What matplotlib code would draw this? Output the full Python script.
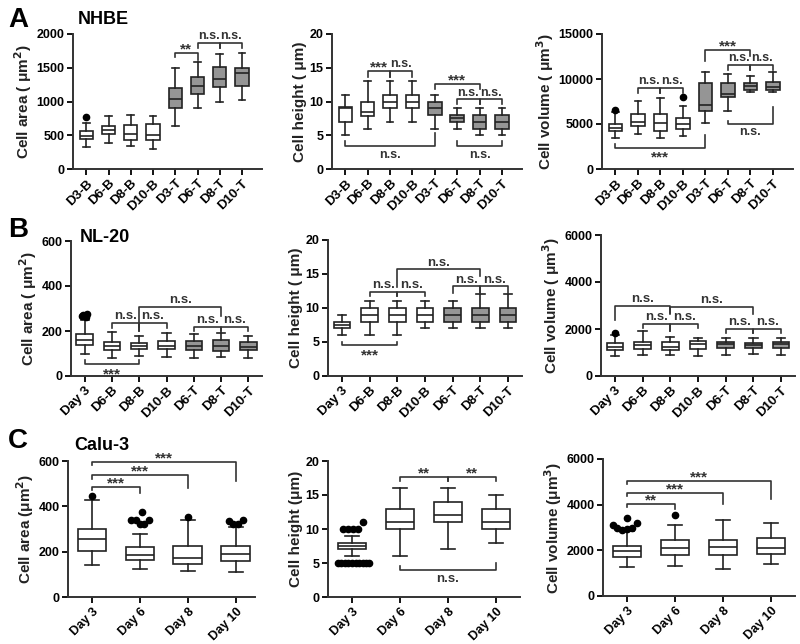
import matplotlib
matplotlib.use("Agg")
import matplotlib.pyplot as plt

plt.rcParams['font.family'] = ['Liberation Sans', 'DejaVu Sans']
plt.rcParams['font.weight'] = 'bold'
plt.rcParams['axes.labelweight'] = 'bold'

# --- data: [whisker low, Q1, median, Q3, whisker high] per box ---
labels_a = ["D3-B", "D6-B", "D8-B", "D10-B", "D3-T", "D6-T", "D8-T", "D10-T"]
labels_b = ["Day 3", "D6-B", "D8-B", "D10-B", "D6-T", "D8-T", "D10-T"]
labels_c = ["Day 3", "Day 6", "Day 8", "Day 10"]

nhbe_area = [[330, 440, 490, 560, 680], [390, 520, 580, 640, 780], [340, 430, 520, 650, 800],
             [300, 430, 500, 670, 780], [640, 910, 1040, 1200, 1500], [910, 1110, 1230, 1360, 1590],
             [990, 1210, 1330, 1510, 1700], [1020, 1230, 1420, 1500, 1720]]
nhbe_area_out = [[770], [], [], [], [], [], [], []]
nhbe_height = [[5, 7, 9, 9.2, 11], [6, 7.8, 8.5, 10, 13], [7, 9, 10, 11, 13], [7, 9, 10, 11, 13],
               [6, 8, 9, 10, 11], [6, 7, 7.5, 8, 9], [5, 6, 7, 8, 9], [5, 6, 7, 8, 9]]
nhbe_height_out = [[], [], [], [], [], [], [], []]
nhbe_volume = [[3500, 4200, 4600, 5000, 6300], [3900, 4800, 5200, 6100, 7600], [3500, 4200, 5100, 6100, 7900],
               [3700, 4400, 5000, 5700, 7000], [5100, 6500, 7100, 9500, 10800], [6500, 8000, 8300, 9500, 10600],
               [8500, 8800, 9200, 9500, 10300], [8500, 8800, 9100, 9700, 10800]]
nhbe_volume_out = [[6600], [], [], [8000], [], [], [], []]

nl20_area = [[100, 140, 160, 185, 250], [80, 115, 135, 150, 195], [90, 120, 132, 145, 180],
             [85, 120, 135, 155, 190], [80, 115, 135, 155, 185], [85, 110, 135, 160, 190],
             [80, 115, 130, 150, 180]]
nl20_area_out = [[265, 272, 268, 262, 275], [], [], [], [], [], []]
nl20_height = [[6, 7, 7.5, 8, 9], [6, 8, 9, 10, 11], [6, 8, 9, 10, 11], [7, 8, 9, 10, 11],
               [7, 8, 9, 10, 11], [7, 8, 9, 10, 12], [7, 8, 9, 10, 12]]
nl20_height_out = [[], [], [], [], [], [], []]
nl20_volume = [[850, 1100, 1250, 1400, 1750], [900, 1150, 1300, 1450, 1900], [900, 1100, 1250, 1450, 1650],
               [850, 1150, 1350, 1500, 1600], [900, 1200, 1350, 1450, 1600], [950, 1200, 1300, 1400, 1600],
               [900, 1200, 1350, 1450, 1600]]
nl20_volume_out = [[1850], [], [], [], [], [], []]

calu_area = [[140, 205, 255, 300, 430], [125, 165, 185, 220, 280], [115, 145, 170, 225, 340],
             [110, 160, 190, 225, 310]]
calu_area_out = [[445], [340, 340, 320, 320, 340, 375], [355], [335, 320, 320, 340]]
calu_height = [[6, 7, 7.5, 8, 9], [6, 10, 11, 13, 16], [7, 11, 12, 14, 16], [8, 10, 11, 13, 15]]
calu_height_out = [[10, 10, 10, 10, 11, 5, 5, 5, 5, 5, 5, 5, 5, 5, 5], [], [], []]
calu_volume = [[1250, 1700, 1950, 2200, 2850], [1300, 1800, 2100, 2450, 3100],
               [1200, 1800, 2150, 2450, 3350], [1400, 1850, 2100, 2550, 3200]]
calu_volume_out = [[3100, 3000, 2900, 2950, 3000, 3200, 3400], [3550], [], []]

# outlier x-jitter offsets (GraphPad spreads tied points sideways)
calu_area_dx = [[0], [-0.18, -0.09, 0.0, 0.09, 0.18, 0.05], [0], [-0.15, -0.05, 0.05, 0.15]]
calu_height_dx = [[-0.18, -0.08, 0.02, 0.12, 0.22, -0.3, -0.22, -0.15, -0.08, 0, 0.08, 0.15, 0.22, 0.3, 0.36], [], [], []]
calu_volume_dx = [[-0.3, -0.2, -0.1, 0.0, 0.1, 0.2, 0.0], [0], [], []]
nl20_area_dx = [[-0.1, -0.05, 0.0, 0.05, 0.1], [], [], [], [], [], []]

# significance brackets: (box i, box j, y, leg_i, leg_j, text, below)
sig_a1 = [(5, 6, 1720, 60, 100, "**", False), (6, 7, 1870, 80, 80, "n.s.", False), (7, 8, 1870, 80, 80, "n.s.", False)]
sig_a2 = [(2, 3, 14.5, 0.8, 0.8, "***", False), (3, 4, 14.5, 0.8, 0.8, "n.s.", False),
          (5, 7, 12.6, 0.8, 0.8, "***", False), (6, 7, 10.3, 0.6, 0.6, "n.s.", False),
          (7, 8, 10.3, 0.6, 0.6, "n.s.", False), (1, 5, 3.4, 0.7, 1.9, "n.s.", True),
          (6, 8, 3.4, 0.7, 0.7, "n.s.", True)]
sig_a3 = [(2, 3, 9000, 600, 600, "n.s.", False), (3, 4, 9000, 600, 600, "n.s.", False),
          (5, 7, 13200, 1200, 600, "***", False), (6, 7, 11600, 600, 600, "n.s.", False),
          (7, 8, 11600, 600, 600, "n.s.", False), (1, 5, 2330, 500, 1500, "***", True),
          (6, 8, 5040, 300, 1800, "n.s.", True)]
sig_b1 = [(1, 3, 52, 20, 20, "***", True), (2, 3, 235, 20, 35, "n.s.", False), (3, 4, 235, 35, 20, "n.s.", False),
          (3, 6, 307, 90, 40, "n.s.", False), (5, 6, 220, 20, 20, "n.s.", False), (6, 7, 220, 20, 20, "n.s.", False)]
sig_b2 = [(1, 3, 4.5, 0.5, 0.5, "***", True), (2, 3, 12.4, 0.6, 0.6, "n.s.", False), (3, 4, 12.4, 0.6, 0.6, "n.s.", False),
          (3, 6, 15.7, 2.6, 1.0, "n.s.", False), (5, 6, 13.2, 1.0, 1.0, "n.s.", False), (6, 7, 13.2, 1.0, 1.0, "n.s.", False)]
sig_b3 = [(1, 3, 2970, 600, 300, "n.s.", False), (2, 3, 2230, 200, 300, "n.s.", False), (3, 4, 2230, 300, 200, "n.s.", False),
          (3, 6, 2940, 300, 300, "n.s.", False), (5, 6, 2020, 200, 200, "n.s.", False), (6, 7, 2020, 200, 200, "n.s.", False)]
sig_c1 = [(1, 2, 485, 15, 25, "***", False), (1, 3, 537, 15, 55, "***", False), (1, 4, 596, 15, 85, "***", False)]
sig_c2 = [(2, 3, 17.6, 0.6, 0.6, "**", False), (3, 4, 17.6, 0.6, 0.6, "**", False), (2, 4, 4.0, 0.6, 1.0, "n.s.", True)]
sig_c3 = [(1, 2, 4040, 150, 250, "**", False), (1, 3, 4510, 150, 500, "***", False), (1, 4, 5050, 150, 800, "***", False)]

W, H = 800, 644
fig = plt.figure(figsize=(W / 100, H / 100), dpi=100)


def add_ax(left, top, right, bottom):
    return fig.add_axes([left / W, 1 - bottom / H, (right - left) / W, (bottom - top) / H])


def draw_panel(ax, stats, outs, labels, colors, ymax, yticks, ylabel, xlim, sigs, dx=None, ns_size=9.5, xfs=9.5):
    data = []
    for i, s in enumerate(stats):
        data.append(dict(whislo=s[0], q1=s[1], med=s[2], q3=s[3], whishi=s[4], fliers=[]))
    pos = list(range(1, len(stats) + 1))
    bp = ax.bxp(data, positions=pos, widths=0.6, patch_artist=True, showfliers=False,
                boxprops=dict(linewidth=1.2, edgecolor='#222222'),
                whiskerprops=dict(linewidth=1.2, color='#222222'),
                capprops=dict(linewidth=1.2, color='#222222'),
                medianprops=dict(linewidth=1.2, color='#222222'))
    for patch, c in zip(bp['boxes'], colors):
        patch.set_facecolor(c)
    for i, o in enumerate(outs):
        if not o:
            continue
        offs = dx[i] if dx is not None and dx[i] else [0] * len(o)
        ax.plot([pos[i] + d for d in offs], o, 'o', color='black', markersize=4.5, clip_on=False)
    ax.set_xlim(*xlim)
    ax.set_ylim(0, ymax)
    ax.set_yticks(yticks)
    ax.set_xticks(pos)
    ax.set_xticklabels(labels, rotation=45, ha='right', rotation_mode='anchor', fontsize=xfs, fontweight='bold')
    ax.tick_params(axis='y', labelsize=9, width=1.3, length=4, pad=2)
    ax.tick_params(axis='x', width=1.3, length=4, pad=2)
    for t in ax.get_yticklabels():
        t.set_fontweight('bold')
    ax.set_ylabel(ylabel, fontsize=11, fontweight='bold', color='#222222', labelpad=2)
    for sp in ['top', 'right']:
        ax.spines[sp].set_visible(False)
    for sp in ['left', 'bottom']:
        ax.spines[sp].set_linewidth(1.4)
        ax.spines[sp].set_color('#333333')
    for (i, j, y, h1, h2, txt, below) in sigs:
        fs = ns_size if txt == "n.s." else 11
        if below:
            ax.plot([i, i, j, j], [y + h1, y, y, y + h2], color='#333333', lw=1.2, clip_on=False)
            ax.text((i + j) / 2, y - ymax * 0.02, txt, ha='center', va='top', fontsize=fs, fontweight='bold', color='#333333')
        else:
            ax.plot([i, i, j, j], [y - h1, y, y, y - h2], color='#333333', lw=1.2, clip_on=False)
            off = 0.005 if txt == "n.s." else -0.025
            ax.text((i + j) / 2, y + ymax * off, txt, ha='center', va='bottom', fontsize=fs, fontweight='bold', color='#333333')


white, gray = 'white', '#959595'
cols_a = [white] * 4 + [gray] * 4
cols_b = [white] * 4 + [gray] * 3
cols_c = [white] * 4

ax = add_ax(73, 34, 262, 169)
draw_panel(ax, nhbe_area, nhbe_area_out, labels_a, cols_a, 2000, [0, 500, 1000, 1500, 2000],
           'Cell area ( μm$^\\mathbf{2}$)', (0.4, 8.9), sig_a1, ns_size=9)
ax = add_ax(332, 34, 522, 169)
draw_panel(ax, nhbe_height, nhbe_height_out, labels_a, cols_a, 20, [0, 5, 10, 15, 20],
           'Cell height ( μm)', (0.4, 8.9), sig_a2, ns_size=9)
ax = add_ax(602, 34, 793, 169)
draw_panel(ax, nhbe_volume, nhbe_volume_out, labels_a, cols_a, 15000, [0, 5000, 10000, 15000],
           'Cell volume ( μm$^\\mathbf{3}$)', (0.4, 8.9), sig_a3, ns_size=9)

ax = add_ax(71, 241, 262, 376)
draw_panel(ax, nl20_area, nl20_area_out, labels_b, cols_b, 600, [0, 200, 400, 600],
           'Cell area ( μm$^\\mathbf{2}$)', (0.5, 7.5), sig_b1, nl20_area_dx)
ax = add_ax(328, 240, 522, 376)
draw_panel(ax, nl20_height, nl20_height_out, labels_b, cols_b, 20, [0, 5, 10, 15, 20],
           'Cell height ( μm)', (0.5, 7.5), sig_b2)
ax = add_ax(601, 235, 795, 376)
draw_panel(ax, nl20_volume, nl20_volume_out, labels_b, cols_b, 6000, [0, 2000, 4000, 6000],
           'Cell volume ( μm$^\\mathbf{3}$)', (0.5, 7.5), sig_b3)

ax = add_ax(68, 461, 255, 597)
draw_panel(ax, calu_area, calu_area_out, labels_c, cols_c, 600, [0, 200, 400, 600],
           'Cell area (μm$^\\mathbf{2}$)', (0.5, 4.4), sig_c1, calu_area_dx, xfs=9)
ax = add_ax(328, 461, 520, 597)
draw_panel(ax, calu_height, calu_height_out, labels_c, cols_c, 20, [0, 5, 10, 15, 20],
           'Cell height (μm)', (0.5, 4.5), sig_c2, calu_height_dx, xfs=9)
ax = add_ax(603, 459, 795, 596)
draw_panel(ax, calu_volume, calu_volume_out, labels_c, cols_c, 6000, [0, 2000, 4000, 6000],
           'Cell volume (μm$^\\mathbf{3}$)', (0.5, 4.5), sig_c3, calu_volume_dx, xfs=9)

# panel letters and cell line names
fig.text(8 / W, 1 - 20 / H, 'A', fontsize=20, fontweight='bold', va='center')
fig.text(78 / W, 1 - 20 / H, 'NHBE', fontsize=13, fontweight='bold', va='center')
fig.text(8 / W, 1 - 230 / H, 'B', fontsize=20, fontweight='bold', va='center')
fig.text(80 / W, 1 - 238 / H, 'NL-20', fontsize=13, fontweight='bold', va='center')
fig.text(8 / W, 1 - 441 / H, 'C', fontsize=20, fontweight='bold', va='center')
fig.text(74 / W, 1 - 445 / H, 'Calu-3', fontsize=13, fontweight='bold', va='center')

fig.savefig('out.png', dpi=100)
